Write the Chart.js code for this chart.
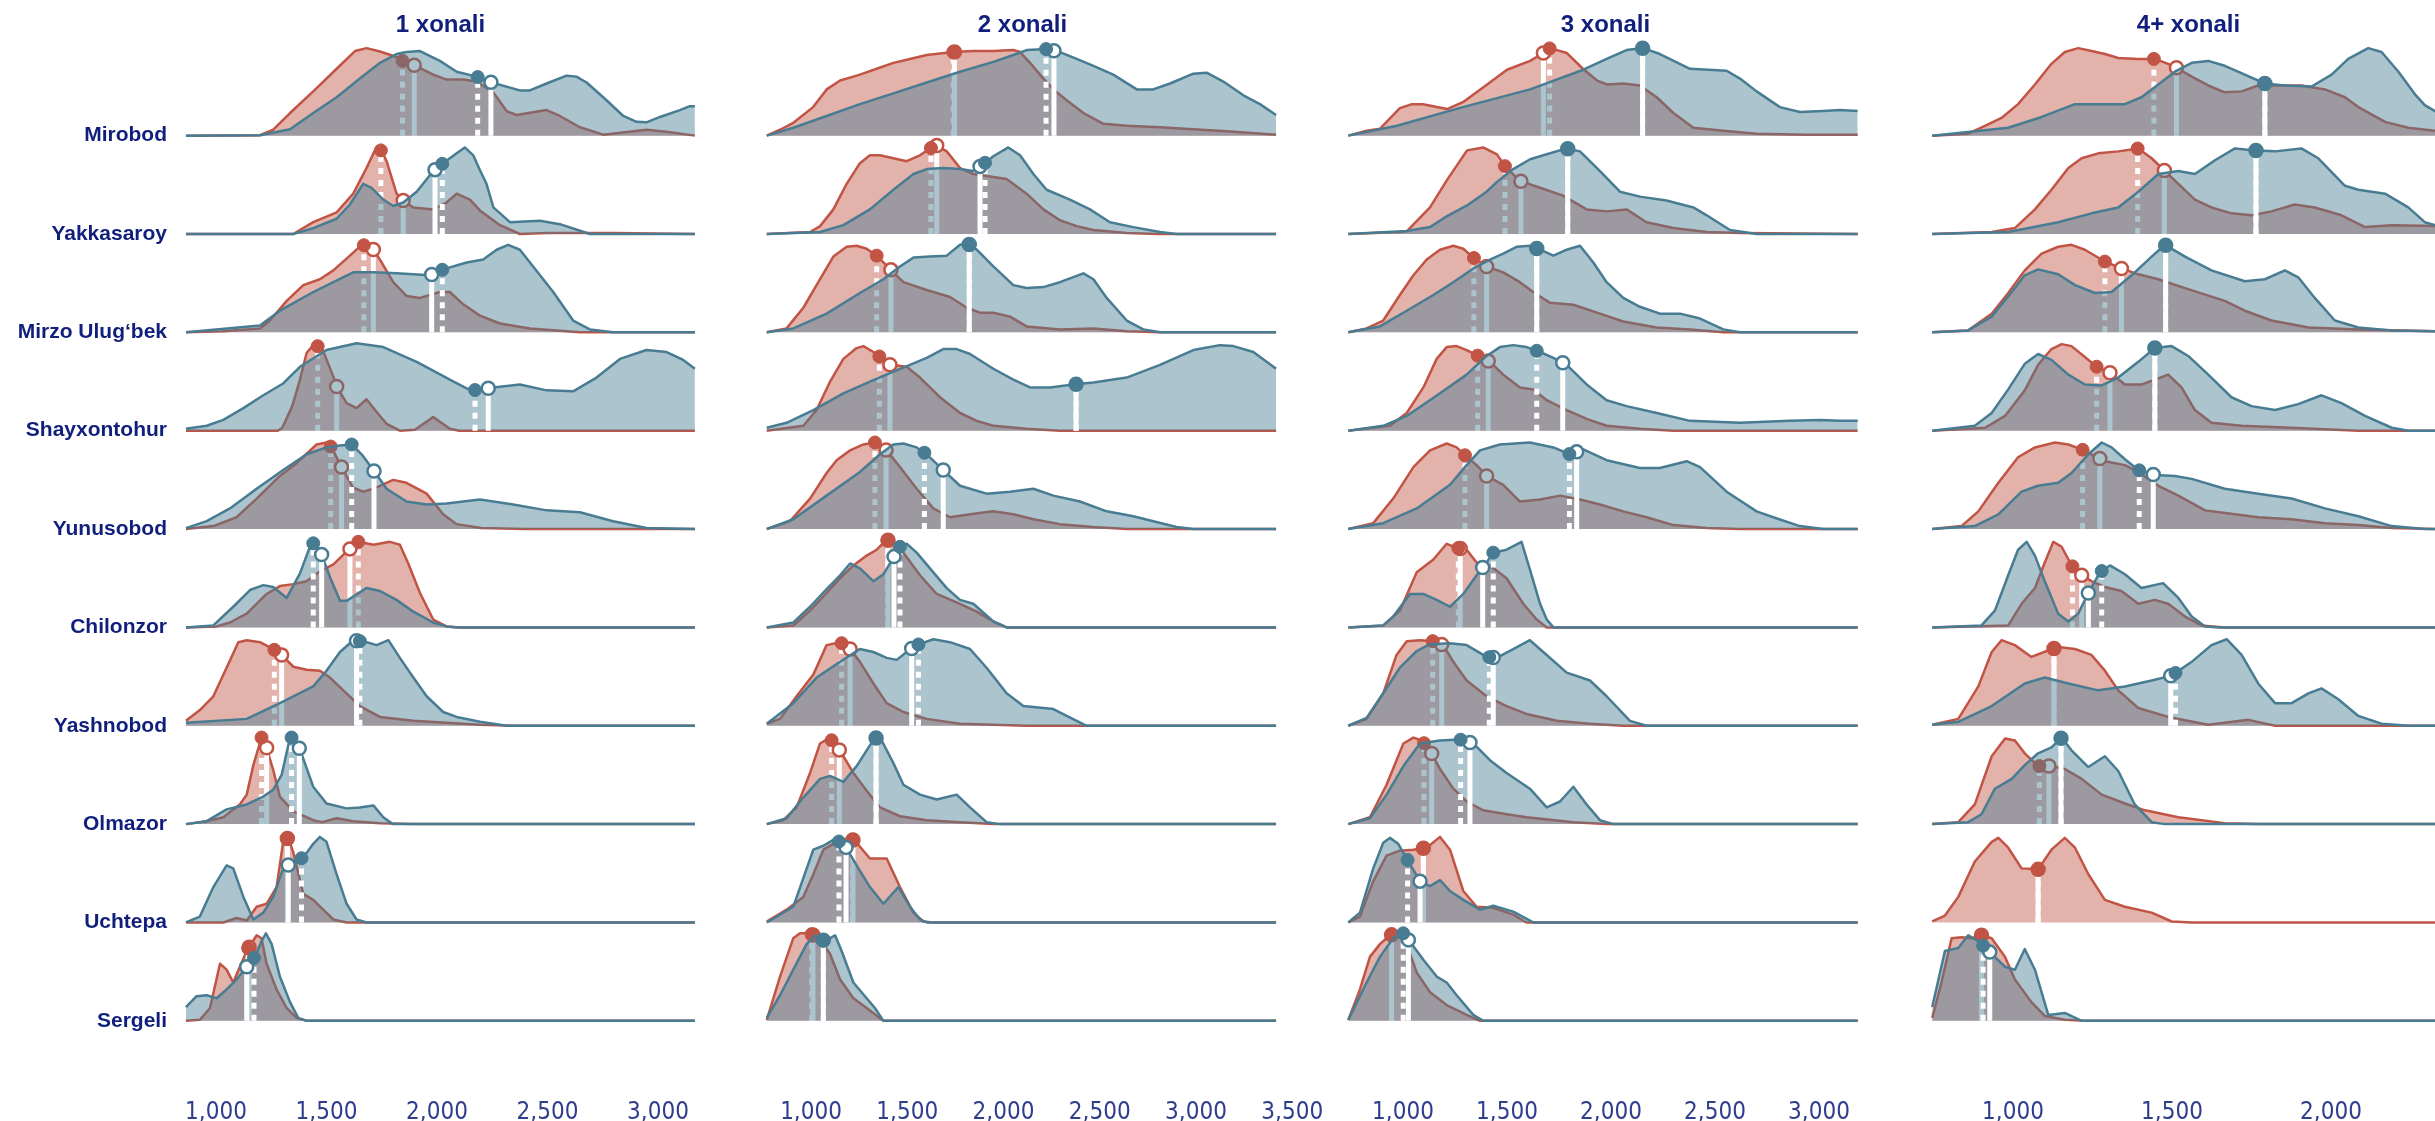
<!DOCTYPE html>
<html><head><meta charset="utf-8">
<script src="https://cdn.jsdelivr.net/npm/chart.js@4.4.1/dist/chart.umd.min.js"></script>
<style>
html,body{margin:0;padding:0;background:#fff;overflow:hidden;width:2435px;height:1121px;}
.p{position:absolute;top:0;height:1121px;}
</style></head><body>
<div class="p" style="left:0;width:743px"><canvas id="c0"></canvas></div>
<div class="p" style="left:750px;width:575px"><canvas id="c1"></canvas></div>
<div class="p" style="left:1333px;width:575px"><canvas id="c2"></canvas></div>
<div class="p" style="left:1916px;width:575px"><canvas id="c3"></canvas></div>
<script>
// ---------------- DATA ----------------
const ROWS = ["Mirobod","Yakkasaroy","Mirzo Ulug\u2018bek","Shayxontohur","Yunusobod","Chilonzor","Yashnobod","Olmazor","Uchtepa","Sergeli"];
const PANELS = ["1 xonali","2 xonali","3 xonali","4+ xonali"];
const X_TICKS = [[1000,1500,2000,2500,3000],[1000,1500,2000,2500,3000,3500],[1000,1500,2000,2500,3000],[1000,1500,2000]];
const X_MIN = [782.8, 683.0, 663.5, 695.0];
const X_MAX = [3248.9, 3514.2, 3283.7, 2408.8];

// density curves: flat [x, height, x, height, ...] per district (top to bottom)
const RED_P1 = [
 [864,0,1199,0.005,1259,0.06,1335,0.23,1440,0.45,1546,0.68,1629,0.86,1681,0.89,1742,0.855,1817,0.8,1844,0.76,1893,0.72,1983,0.62,2043,0.57,2119,0.57,2179,0.55,2255,0.44,2315,0.25,2360,0.21,2496,0.26,2556,0.2,2647,0.085,2752,0.01,2948,0.06,3039,0.04,3167,0],
 [864,0,1350,0,1372,0.03,1440,0.12,1546,0.22,1621,0.41,1681,0.67,1719,0.85,1749,0.85,1772,0.74,1817,0.41,1847,0.34,1893,0.27,1983,0.25,2043,0.32,2089,0.41,2149,0.35,2194,0.24,2285,0.09,2375,0,2500,0.01,2800,0.01,3167,0],
 [864,0,1033,0.01,1199,0.04,1244,0.12,1320,0.32,1395,0.48,1470,0.54,1531,0.63,1606,0.78,1659,0.89,1704,0.87,1742,0.74,1802,0.51,1862,0.37,1923,0.35,2013,0.41,2058,0.41,2119,0.285,2194,0.17,2285,0.09,2420,0.04,2647,0,3167,0],
 [864,0,1280,0,1300,0.03,1345,0.25,1380,0.52,1410,0.79,1440,0.87,1478,0.85,1531,0.55,1546,0.45,1591,0.28,1636,0.23,1681,0.32,1727,0.19,1772,0.07,1832,0,1900,0.01,1983,0.14,2058,0.02,2100,0,3167,0],
 [864,0,988,0.03,1093,0.12,1184,0.31,1289,0.54,1365,0.67,1455,0.86,1500,0.88,1523,0.83,1568,0.63,1621,0.42,1666,0.38,1712,0.41,1742,0.44,1802,0.5,1862,0.47,1953,0.36,2028,0.15,2089,0.05,2200,0.01,2400,0,3167,0],
 [864,0,1003,0.01,1063,0.05,1139,0.14,1229,0.34,1289,0.42,1350,0.44,1410,0.47,1470,0.57,1531,0.64,1591,0.77,1644,0.87,1712,0.84,1787,0.87,1832,0.84,1870,0.65,1923,0.35,1983,0.08,2043,0.01,2100,0,3167,0],
 [864,0.05,927,0.16,988,0.3,1048,0.59,1101,0.85,1139,0.87,1199,0.85,1259,0.78,1297,0.72,1350,0.6,1410,0.57,1470,0.56,1516,0.49,1576,0.36,1651,0.2,1742,0.09,1893,0.05,2043,0.03,2194,0.01,2345,0,3167,0],
 [864,0,958,0.03,1033,0.07,1108,0.2,1139,0.3,1169,0.6,1206,0.88,1222,0.83,1259,0.55,1289,0.28,1350,0.13,1440,0.04,1480,0.02,1546,0.06,1621,0.03,1742,0.01,1893,0,3167,0],
 [864,0,1033,0,1093,0.045,1139,0.02,1184,0.16,1229,0.19,1274,0.36,1304,0.82,1327,0.86,1350,0.71,1395,0.29,1440,0.23,1485,0.13,1531,0.03,1591,0,3167,0],
 [864,0,927,0.01,973,0.13,1018,0.58,1048,0.52,1078,0.39,1108,0.55,1139,0.71,1184,0.87,1206,0.84,1229,0.58,1274,0.32,1320,0.13,1365,0.03,1410,0,3167,0]
];
const BLUE_P1 = [
 [864,0,1199,0.003,1335,0.065,1440,0.23,1546,0.39,1651,0.58,1742,0.74,1817,0.83,1862,0.85,1923,0.86,2013,0.76,2089,0.65,2179,0.6,2247,0.54,2375,0.46,2420,0.46,2496,0.53,2586,0.61,2631,0.6,2677,0.54,2767,0.36,2843,0.2,2903,0.14,2948,0.135,3009,0.19,3099,0.26,3144,0.3,3167,0.3],
 [864,0,1350,0,1440,0.06,1546,0.155,1606,0.3,1666,0.51,1704,0.47,1757,0.35,1802,0.285,1847,0.32,1908,0.43,1983,0.64,2028,0.72,2089,0.82,2126,0.88,2164,0.8,2194,0.65,2224,0.51,2255,0.27,2330,0.12,2466,0.135,2556,0.1,2692,0,3167,0],
 [864,0,1199,0.07,1289,0.22,1440,0.41,1531,0.51,1621,0.61,1712,0.61,1817,0.6,1968,0.58,2028,0.64,2134,0.71,2209,0.74,2270,0.84,2322,0.89,2375,0.84,2435,0.67,2526,0.41,2616,0.12,2692,0.03,2797,0,3167,0],
 [864,0.02,958,0.05,1033,0.11,1124,0.23,1214,0.36,1304,0.48,1380,0.65,1500,0.82,1636,0.89,1757,0.85,1908,0.7,2058,0.52,2134,0.43,2179,0.41,2255,0.44,2375,0.47,2496,0.41,2616,0.4,2722,0.54,2828,0.73,2948,0.82,3039,0.8,3114,0.72,3167,0.63],
 [864,0.01,958,0.08,1063,0.21,1184,0.41,1304,0.6,1410,0.76,1500,0.83,1561,0.85,1614,0.86,1659,0.76,1712,0.6,1772,0.41,1862,0.28,1953,0.25,2043,0.26,2194,0.3,2345,0.25,2496,0.19,2647,0.17,2797,0.08,2948,0.01,3167,0],
 [864,0,988,0.02,1078,0.21,1154,0.38,1214,0.43,1259,0.41,1320,0.3,1380,0.55,1433,0.87,1470,0.79,1516,0.51,1561,0.27,1591,0.27,1681,0.4,1742,0.37,1817,0.28,1893,0.16,1983,0.05,2043,0.01,2100,0,3167,0],
 [864,0.03,1139,0.07,1289,0.23,1440,0.4,1500,0.56,1561,0.75,1621,0.87,1681,0.85,1727,0.82,1780,0.87,1832,0.69,1893,0.49,1953,0.3,2028,0.14,2089,0.09,2194,0.04,2315,0,3167,0],
 [864,0,958,0.03,1048,0.15,1139,0.2,1214,0.28,1259,0.35,1297,0.5,1335,0.88,1350,0.88,1380,0.76,1440,0.38,1500,0.21,1591,0.16,1650,0.17,1712,0.19,1757,0.07,1800,0,3167,0],
 [864,0,927,0.06,988,0.36,1048,0.58,1078,0.55,1124,0.26,1169,0.03,1214,0.1,1259,0.26,1304,0.55,1350,0.62,1395,0.66,1440,0.8,1470,0.87,1500,0.82,1546,0.49,1591,0.19,1636,0.03,1681,0,3167,0],
 [864,0.14,912,0.25,958,0.26,1003,0.23,1048,0.32,1093,0.42,1139,0.55,1176,0.65,1206,0.81,1226,0.89,1252,0.78,1289,0.45,1335,0.19,1372,0.03,1410,0,3167,0]
];
const RED_P2 = [
 [770,0,839,0.06,908,0.13,1011,0.29,1081,0.47,1151,0.56,1220,0.6,1254,0.62,1341,0.68,1428,0.74,1514,0.78,1601,0.82,1739,0.85,1843,0.86,1947,0.86,2051,0.87,2086,0.85,2138,0.74,2207,0.58,2259,0.47,2328,0.36,2415,0.23,2519,0.12,2640,0.1,2813,0.085,2986,0.065,3159,0.045,3416,0.01],
 [770,0,995,0.02,1047,0.08,1116,0.25,1185,0.51,1254,0.72,1306,0.8,1358,0.8,1428,0.77,1497,0.74,1566,0.8,1618,0.87,1653,0.9,1705,0.84,1774,0.67,1843,0.61,1947,0.58,2016,0.56,2120,0.41,2207,0.25,2293,0.14,2380,0.08,2467,0.04,2640,0.01,2800,0,3416,0],
 [770,0,873,0.04,960,0.25,1047,0.54,1116,0.77,1185,0.87,1237,0.88,1289,0.85,1341,0.78,1428,0.61,1480,0.51,1601,0.43,1722,0.36,1809,0.25,1878,0.2,1947,0.2,2034,0.16,2120,0.06,2293,0.03,2467,0.04,2640,0.01,2813,0,3416,0],
 [770,0,960,0.05,1029,0.21,1099,0.5,1168,0.73,1237,0.84,1272,0.86,1324,0.8,1358,0.75,1410,0.67,1497,0.65,1566,0.54,1670,0.34,1774,0.18,1861,0.1,1947,0.05,2120,0.02,2293,0,3416,0],
 [770,0,891,0.08,995,0.31,1081,0.57,1133,0.7,1203,0.8,1272,0.86,1332,0.88,1393,0.8,1462,0.63,1549,0.41,1635,0.21,1722,0.12,1826,0.15,1947,0.18,2051,0.15,2155,0.1,2293,0.05,2467,0.02,2640,0,3416,0],
 [770,0,908,0.02,995,0.17,1081,0.35,1151,0.5,1220,0.63,1289,0.73,1341,0.79,1393,0.89,1428,0.87,1480,0.76,1566,0.53,1653,0.34,1774,0.24,1861,0.16,1947,0.06,2016,0,3416,0],
 [770,0.02,839,0.07,925,0.3,1012,0.52,1081,0.82,1151,0.85,1203,0.78,1254,0.65,1324,0.43,1393,0.23,1480,0.14,1601,0.07,1774,0.02,1947,0.01,2120,0,3416,0],
 [770,0,856,0.04,925,0.17,995,0.52,1047,0.82,1081,0.86,1116,0.85,1168,0.69,1220,0.52,1289,0.34,1358,0.17,1462,0.08,1601,0.04,1774,0.02,1947,0,3416,0],
 [770,0.01,873,0.13,960,0.26,1012,0.49,1064,0.74,1133,0.82,1203,0.86,1237,0.81,1306,0.65,1393,0.65,1462,0.36,1532,0.1,1583,0.01,1635,0,3416,0],
 [770,0.01,839,0.45,908,0.84,943,0.89,995,0.89,1047,0.83,1099,0.68,1151,0.42,1220,0.23,1289,0.13,1376,0,3416,0]
];
const BLUE_P2 = [
 [770,0,908,0.08,1081,0.2,1254,0.32,1428,0.43,1601,0.54,1774,0.65,1947,0.75,2051,0.82,2120,0.87,2224,0.88,2293,0.85,2380,0.78,2467,0.71,2570,0.62,2692,0.47,2778,0.47,2865,0.53,2986,0.63,3055,0.64,3142,0.55,3246,0.41,3332,0.32,3416,0.21],
 [770,0,1047,0.02,1168,0.09,1306,0.25,1428,0.45,1532,0.61,1601,0.66,1687,0.67,1774,0.66,1843,0.64,1895,0.71,1947,0.79,2025,0.88,2086,0.8,2155,0.61,2224,0.45,2345,0.35,2449,0.25,2553,0.12,2674,0.07,2813,0.02,2899,0,3416,0],
 [770,0,908,0.04,1081,0.19,1254,0.4,1376,0.54,1462,0.67,1532,0.76,1618,0.77,1705,0.78,1774,0.89,1817,0.9,1861,0.84,1947,0.67,2051,0.48,2120,0.45,2207,0.46,2293,0.51,2415,0.6,2467,0.54,2536,0.35,2640,0.12,2726,0.03,2813,0,3416,0],
 [770,0.03,873,0.08,1012,0.21,1168,0.38,1306,0.5,1428,0.6,1514,0.67,1601,0.74,1687,0.83,1757,0.83,1826,0.78,1947,0.63,2051,0.52,2138,0.44,2241,0.44,2363,0.47,2467,0.49,2640,0.54,2813,0.67,2986,0.82,3124,0.87,3194,0.86,3298,0.8,3416,0.63],
 [770,0,908,0.1,1081,0.34,1254,0.58,1358,0.76,1428,0.86,1480,0.87,1549,0.83,1601,0.76,1687,0.6,1774,0.44,1912,0.36,2034,0.38,2155,0.41,2259,0.34,2397,0.28,2536,0.18,2674,0.13,2778,0.08,2899,0.02,2986,0,3416,0],
 [770,0,908,0.05,995,0.21,1081,0.39,1151,0.53,1203,0.65,1254,0.6,1324,0.47,1376,0.54,1428,0.71,1462,0.82,1497,0.85,1549,0.76,1618,0.6,1705,0.4,1774,0.28,1843,0.24,1947,0.06,2016,0,3416,0],
 [770,0.02,908,0.23,1029,0.49,1151,0.65,1254,0.78,1324,0.75,1393,0.69,1445,0.67,1497,0.75,1549,0.82,1635,0.88,1722,0.85,1826,0.78,1912,0.59,2016,0.33,2103,0.2,2259,0.17,2328,0.1,2432,0,3416,0],
 [770,0,873,0.06,960,0.27,1047,0.46,1099,0.49,1168,0.43,1237,0.59,1289,0.75,1332,0.88,1367,0.85,1428,0.62,1480,0.4,1566,0.3,1653,0.25,1757,0.3,1826,0.17,1912,0.02,1982,0,3416,0],
 [770,0,908,0.16,960,0.45,1012,0.74,1064,0.78,1116,0.84,1168,0.81,1237,0.58,1306,0.36,1376,0.19,1454,0.36,1514,0.16,1566,0.03,1601,0,3416,0],
 [770,0.03,839,0.26,908,0.52,977,0.78,1021,0.87,1073,0.81,1125,0.87,1159,0.71,1220,0.39,1289,0.23,1332,0.13,1376,0,3416,0]
];
const RED_P3 = [
 [737,0,825,0.05,889,0.07,985,0.28,1043,0.32,1096,0.32,1212,0.27,1288,0.34,1385,0.49,1500,0.67,1611,0.76,1668,0.83,1707,0.89,1788,0.84,1865,0.68,1933,0.56,1981,0.52,2059,0.53,2139,0.51,2220,0.39,2300,0.23,2396,0.08,2540,0.05,2700,0.02,2941,0.01,3186,0.01],
 [737,0,985,0.02,1019,0.03,1130,0.27,1212,0.55,1308,0.85,1385,0.88,1452,0.81,1490,0.69,1562,0.54,1659,0.47,1769,0.39,1883,0.25,1979,0.23,2075,0.25,2171,0.12,2300,0.06,2460,0.02,2620,0.01,3186,0],
 [737,0,825,0.04,905,0.12,985,0.38,1050,0.58,1114,0.74,1178,0.84,1242,0.88,1290,0.85,1338,0.76,1402,0.67,1482,0.61,1562,0.51,1626,0.41,1707,0.3,1819,0.28,1947,0.19,2059,0.11,2220,0.05,2380,0.03,2540,0,3186,0],
 [737,0,937,0.05,1018,0.18,1098,0.44,1162,0.73,1210,0.85,1258,0.86,1306,0.82,1362,0.76,1418,0.7,1482,0.57,1562,0.44,1626,0.42,1691,0.31,1787,0.21,1883,0.12,1979,0.05,2139,0.02,2300,0,3186,0],
 [737,0,857,0.06,953,0.31,1050,0.63,1130,0.8,1210,0.87,1258,0.83,1298,0.75,1354,0.65,1402,0.54,1482,0.45,1562,0.28,1659,0.3,1755,0.34,1851,0.3,1947,0.25,2059,0.18,2171,0.12,2300,0.04,2460,0.01,2620,0,3186,0],
 [737,0,905,0.02,985,0.17,1066,0.56,1146,0.69,1210,0.85,1258,0.81,1306,0.79,1354,0.66,1418,0.63,1498,0.5,1578,0.24,1643,0.08,1691,0,3186,0],
 [737,0,825,0.07,905,0.33,969,0.72,1018,0.86,1082,0.87,1146,0.86,1194,0.82,1242,0.65,1306,0.46,1402,0.3,1498,0.2,1594,0.12,1739,0.05,1899,0.02,2059,0,3186,0],
 [737,0,841,0.07,921,0.4,1002,0.82,1050,0.88,1090,0.85,1130,0.75,1178,0.56,1242,0.36,1306,0.23,1386,0.14,1498,0.1,1594,0.07,1819,0.02,1979,0,3186,0],
 [737,0,793,0.06,857,0.42,921,0.68,985,0.73,1050,0.74,1114,0.76,1178,0.87,1226,0.74,1290,0.32,1354,0.16,1434,0.15,1530,0.08,1594,0,3186,0],
 [737,0.01,793,0.32,841,0.65,889,0.78,937,0.87,977,0.89,1018,0.78,1066,0.49,1130,0.29,1210,0.16,1306,0.06,1370,0,3186,0]
];
const BLUE_P3 = [
 [737,0,971,0.1,1288,0.29,1611,0.47,1867,0.67,1979,0.78,2075,0.87,2155,0.89,2235,0.83,2380,0.68,2556,0.66,2620,0.58,2700,0.45,2812,0.29,2908,0.24,3021,0.25,3101,0.26,3186,0.25],
 [737,0,1018,0.03,1130,0.07,1210,0.18,1308,0.29,1402,0.43,1452,0.53,1530,0.66,1611,0.76,1691,0.81,1787,0.87,1851,0.84,1947,0.64,2043,0.43,2139,0.38,2267,0.34,2396,0.27,2460,0.19,2572,0.04,2700,0,3186,0],
 [737,0,889,0.06,1018,0.22,1146,0.38,1242,0.51,1338,0.65,1418,0.74,1482,0.8,1546,0.87,1610,0.88,1659,0.84,1723,0.78,1787,0.84,1851,0.88,1915,0.71,1979,0.51,2059,0.35,2139,0.26,2235,0.19,2332,0.19,2428,0.14,2540,0.03,2620,0,3186,0],
 [737,0,905,0.05,1018,0.15,1178,0.38,1306,0.57,1402,0.76,1466,0.85,1530,0.87,1594,0.85,1659,0.8,1723,0.74,1787,0.67,1883,0.47,1979,0.31,2075,0.25,2220,0.18,2380,0.1,2620,0.08,2860,0.1,3005,0.11,3101,0.1,3186,0.1],
 [737,0,905,0.06,1066,0.21,1226,0.45,1306,0.65,1370,0.8,1466,0.86,1610,0.88,1723,0.83,1803,0.76,1867,0.81,1979,0.7,2139,0.62,2235,0.62,2364,0.69,2428,0.63,2556,0.38,2700,0.18,2780,0.12,2908,0.03,3021,0,3186,0],
 [737,0,905,0.02,953,0.11,1034,0.34,1098,0.34,1162,0.28,1226,0.21,1290,0.34,1354,0.53,1402,0.66,1434,0.76,1498,0.79,1570,0.87,1610,0.59,1659,0.24,1691,0.08,1723,0,3186,0],
 [737,0,825,0.08,905,0.33,985,0.59,1066,0.76,1130,0.83,1226,0.84,1306,0.82,1402,0.7,1450,0.69,1530,0.78,1610,0.87,1691,0.72,1787,0.54,1899,0.46,1979,0.3,2091,0.05,2171,0,3186,0],
 [737,0,841,0.06,921,0.3,1002,0.59,1082,0.82,1178,0.85,1274,0.86,1338,0.82,1418,0.65,1498,0.52,1610,0.36,1691,0.17,1755,0.23,1819,0.38,1883,0.2,1947,0.04,2011,0,3186,0],
 [737,0,793,0.1,857,0.55,905,0.81,937,0.86,977,0.8,1018,0.65,1082,0.42,1130,0.37,1178,0.43,1226,0.32,1290,0.23,1370,0.13,1434,0.17,1530,0.11,1626,0,3186,0],
 [737,0.01,825,0.39,889,0.65,953,0.84,1001,0.89,1042,0.78,1098,0.62,1162,0.45,1210,0.39,1258,0.26,1338,0.06,1386,0,3186,0]
];
const RED_P4 = [
 [746,0,859,0.02,912,0.1,964,0.18,1016,0.32,1069,0.52,1121,0.73,1163,0.85,1205,0.89,1247,0.86,1289,0.83,1331,0.79,1394,0.78,1446,0.78,1488,0.73,1520,0.68,1562,0.6,1614,0.51,1666,0.44,1719,0.45,1771,0.51,1834,0.51,1907,0.51,1981,0.47,2044,0.39,2086,0.29,2170,0.14,2243,0.08,2327,0.05,2350,0.045],
 [746,0,933,0.02,1006,0.06,1069,0.25,1121,0.45,1174,0.67,1216,0.77,1268,0.82,1331,0.84,1394,0.87,1436,0.77,1478,0.64,1520,0.51,1572,0.35,1624,0.27,1687,0.21,1750,0.19,1813,0.23,1886,0.3,1949,0.27,2033,0.19,2107,0.07,2191,0.09,2327,0.08,2350,0.08],
 [746,0,859,0.02,933,0.19,985,0.4,1037,0.63,1090,0.8,1142,0.87,1184,0.89,1226,0.84,1289,0.72,1341,0.65,1394,0.59,1457,0.54,1541,0.45,1666,0.32,1729,0.22,1813,0.12,1929,0.05,2086,0.03,2327,0.01,2350,0.01],
 [746,0,912,0.03,975,0.15,1037,0.41,1079,0.67,1121,0.83,1153,0.88,1184,0.86,1226,0.75,1263,0.65,1305,0.59,1352,0.47,1404,0.47,1446,0.52,1488,0.57,1530,0.44,1572,0.21,1624,0.08,1719,0.05,1876,0.03,2086,0,2350,0],
 [746,0,838,0.03,891,0.18,954,0.47,1016,0.73,1069,0.83,1132,0.88,1174,0.86,1216,0.81,1247,0.76,1289,0.69,1352,0.65,1394,0.58,1457,0.44,1520,0.34,1604,0.19,1698,0.15,1771,0.12,1876,0.1,1981,0.06,2086,0.04,2191,0.01,2327,0,2350,0],
 [746,0,985,0.02,1027,0.24,1069,0.4,1100,0.66,1127,0.87,1153,0.82,1184,0.63,1216,0.53,1247,0.47,1289,0.41,1341,0.37,1394,0.24,1446,0.28,1488,0.24,1541,0.11,1593,0.02,1666,0,2350,0],
 [746,0.01,828,0.07,891,0.4,933,0.75,964,0.87,1006,0.82,1058,0.7,1106,0.76,1142,0.8,1195,0.78,1247,0.72,1289,0.56,1331,0.36,1394,0.18,1488,0.09,1614,0.01,1740,0.06,1824,0,2350,0],
 [746,0,828,0.02,880,0.2,933,0.69,975,0.87,1006,0.85,1037,0.72,1079,0.59,1121,0.59,1163,0.56,1216,0.46,1279,0.3,1352,0.21,1415,0.14,1520,0.07,1666,0.01,1771,0,2350,0],
 [746,0.01,786,0.07,828,0.26,880,0.62,933,0.82,954,0.86,985,0.76,1027,0.55,1079,0.54,1121,0.74,1163,0.86,1195,0.76,1237,0.49,1289,0.23,1352,0.16,1436,0.1,1499,0.01,1562,0,2350,0],
 [746,0.03,775,0.39,807,0.84,838,0.85,870,0.84,901,0.87,933,0.84,975,0.65,1006,0.42,1058,0.19,1100,0.05,1163,0.01,1226,0,2350,0]
];
const BLUE_P4 = [
 [746,0,985,0.08,1090,0.19,1195,0.32,1268,0.32,1352,0.32,1404,0.39,1457,0.52,1509,0.65,1562,0.74,1614,0.76,1666,0.71,1729,0.62,1792,0.53,1855,0.51,1939,0.5,2002,0.62,2054,0.78,2117,0.89,2159,0.85,2212,0.65,2264,0.42,2295,0.31,2327,0.25,2350,0.2],
 [746,0,985,0.02,1142,0.12,1247,0.21,1331,0.27,1394,0.43,1457,0.61,1520,0.64,1572,0.61,1635,0.75,1698,0.87,1761,0.85,1824,0.84,1907,0.87,1960,0.77,2044,0.49,2086,0.45,2170,0.41,2243,0.27,2295,0.12,2327,0.09,2350,0.07],
 [746,0,859,0.02,933,0.16,996,0.41,1037,0.58,1079,0.64,1142,0.59,1195,0.48,1258,0.4,1310,0.41,1373,0.58,1436,0.77,1478,0.89,1541,0.77,1624,0.63,1729,0.52,1792,0.54,1855,0.63,1897,0.56,1949,0.35,2012,0.12,2086,0.05,2191,0.02,2327,0.01,2350,0.01],
 [746,0,880,0.05,933,0.18,985,0.42,1037,0.68,1079,0.78,1121,0.72,1174,0.57,1226,0.47,1279,0.46,1331,0.54,1394,0.7,1446,0.84,1499,0.86,1551,0.76,1614,0.57,1687,0.34,1750,0.25,1824,0.21,1897,0.27,1970,0.36,2033,0.28,2107,0.15,2191,0.03,2243,0,2350,0],
 [746,0,880,0.03,954,0.15,1027,0.38,1079,0.44,1142,0.47,1184,0.57,1237,0.76,1279,0.88,1310,0.83,1352,0.71,1394,0.6,1446,0.55,1509,0.54,1562,0.51,1666,0.41,1771,0.36,1876,0.31,1981,0.21,2086,0.13,2191,0.03,2295,0,2350,0],
 [746,0,901,0.02,943,0.17,985,0.53,1016,0.79,1043,0.87,1069,0.73,1100,0.47,1142,0.14,1174,0.06,1205,0.14,1237,0.35,1273,0.56,1305,0.63,1352,0.54,1404,0.4,1472,0.45,1520,0.3,1562,0.11,1604,0.01,1650,0,2350,0],
 [746,0.01,828,0.04,933,0.2,1037,0.43,1100,0.49,1174,0.43,1268,0.36,1352,0.4,1436,0.46,1499,0.51,1562,0.65,1624,0.82,1672,0.88,1719,0.72,1771,0.43,1824,0.23,1876,0.23,1929,0.33,1970,0.38,2023,0.27,2086,0.1,2159,0.02,2243,0,2350,0],
 [746,0,859,0.02,901,0.1,943,0.36,996,0.46,1037,0.6,1079,0.72,1121,0.78,1153,0.88,1184,0.75,1237,0.58,1289,0.69,1331,0.54,1383,0.2,1436,0.02,1478,0,2350,0],
 [],
 [746,0.14,786,0.71,828,0.74,859,0.87,891,0.81,933,0.68,975,0.55,1006,0.52,1037,0.73,1069,0.52,1111,0.06,1163,0.08,1216,0,2350,0]
];
// summary statistics per panel and district: filled marker (median) and hollow marker (mean)
const RED_MEDIAN = [
 [1844,1746,1669,1460,1519,1644,1264,1206,1323,1146],
 [1739,1623,1341,1355,1332,1398,1159,1107,1215,1003],
 [1705,1490,1341,1359,1298,1266,1143,1101,1098,945],
 [1443,1392,1289,1263,1219,1187,1129,1083,1079,901]
];
const RED_MEAN = [
 [1897,1847,1712,1546,1568,1606,1297,1229,1323,1150],
 [1745,1653,1415,1410,1390,1400,1203,1147,1218,1010],
 [1675,1567,1402,1410,1402,1275,1186,1138,1098,945],
 [1514,1476,1341,1305,1273,1216,1129,1113,1079,901]
];
const BLUE_MEDIAN = [
 [2184,2024,2024,2172,1614,1440,1651,1342,1387,1172],
 [2221,1904,1822,2377,1589,1462,1558,1338,1145,1064],
 [2152,1792,1643,1643,1800,1434,1415,1277,1022,1001],
 [1792,1764,1480,1446,1397,1279,1511,1151,null,906]
];
const BLUE_MEAN = [
 [2244,1991,1976,2232,1715,1478,1636,1377,1327,1139],
 [2262,1878,1822,2377,1687,1431,1523,1338,1182,1064],
 [2152,1792,1643,1768,1835,1383,1434,1322,1082,1026],
 [1792,1764,1480,1446,1441,1237,1496,1151,null,927]
];

// ---------------- STYLE ----------------
const RED_LINE = '#c15444', BLUE_LINE = '#487c92';
const RED_FILL = 'rgba(193,84,68,0.45)', BLUE_FILL = 'rgba(72,124,146,0.45)';
const TEXT_DARK = '#101e7c', TEXT_TICK = '#2f3d8c';
const SANS = "'Liberation Sans', Arial, sans-serif";
const NARROW = "'Liberation Sans Narrow', 'Arial Narrow', 'DejaVu Sans Condensed', sans-serif";
const LABEL_W = 168;      // width reserved for district names (panel 1)
const RIGHT_PAD = 30;     // room for the last tick label

const REDS = [RED_P1, RED_P2, RED_P3, RED_P4];
const BLUES = [BLUE_P1, BLUE_P2, BLUE_P3, BLUE_P4];

function hAt(c, x) {
  for (let i = 0; i + 3 < c.length; i += 2) {
    const x0 = c[i], y0 = c[i+1], x1 = c[i+2], y1 = c[i+3];
    if (x >= x0 && x <= x1) return y0 + (y1 - y0) * (x - x0) / (x1 - x0);
  }
  return 0;
}
function pts(c, base) {
  const a = [];
  for (let i = 0; i < c.length; i += 2) a.push({x: c[i], y: base + c[i+1]});
  return a;
}
function addSeries(ds, c, med, mean, base, col, fillCol) {
  if (!c || !c.length) return;
  ds.push({data: pts(c, base), borderColor: col, backgroundColor: fillCol, borderWidth: 2.5,
    fill: {value: base}, pointRadius: 0, tension: 0, borderJoinStyle: 'round'});
  if (mean != null) {
    const h = hAt(c, mean);
    ds.push({data: [{x: mean, y: base}, {x: mean, y: base + h}], borderColor: '#ffffff', borderWidth: 5,
      pointRadius: 0, fill: false});
  }
  if (med != null) {
    const h = hAt(c, med);
    ds.push({data: [{x: med, y: base}, {x: med, y: base + h}], borderColor: '#ffffff', borderWidth: 5,
      borderDash: [6, 6], pointRadius: 0, fill: false});
  }
  if (mean != null) {
    ds.push({data: [{x: mean, y: base + hAt(c, mean)}], showLine: false, pointRadius: 6.5,
      pointBackgroundColor: '#ffffff', pointBorderColor: col, pointBorderWidth: 2.5, clip: false});
  }
  if (med != null) {
    ds.push({data: [{x: med, y: base + hAt(c, med)}], showLine: false, pointRadius: 6.5,
      pointBackgroundColor: col, pointBorderColor: col, pointBorderWidth: 1, clip: false});
  }
}

function makePanel(p) {
  const ds = [];
  for (let r = 0; r < ROWS.length; r++) {
    const base = ROWS.length - 1 - r;
    addSeries(ds, REDS[p][r], RED_MEDIAN[p][r], RED_MEAN[p][r], base, RED_LINE, RED_FILL);
    addSeries(ds, BLUES[p][r], BLUE_MEDIAN[p][r], BLUE_MEAN[p][r], base, BLUE_LINE, BLUE_FILL);
  }
  const n = ds.length;
  ds.forEach((d, i) => { d.order = n - i; });
  new Chart(document.getElementById('c' + p), {
    type: 'line',
    data: {datasets: ds},
    options: {
      responsive: true, maintainAspectRatio: false, animation: false, devicePixelRatio: 1,
      events: [],
      layout: {padding: {left: 0, top: 0, bottom: 0, right: RIGHT_PAD}, autoPadding: false},
      plugins: {
        legend: {display: false}, tooltip: {enabled: false},
        title: {display: true, text: PANELS[p], fullSize: false, color: TEXT_DARK,
          font: {family: SANS, size: 24, weight: 'bold'}, padding: {top: 10.6, bottom: 2.8}}
      },
      scales: {
        x: {type: 'linear', min: X_MIN[p], max: X_MAX[p],
          grid: {display: false, drawTicks: true, tickLength: 28}, border: {display: false},
          afterBuildTicks: s => { s.ticks = X_TICKS[p].map(v => ({value: v})); },
          afterFit: s => { s.height = 51; s.paddingLeft = 0; s.paddingRight = 0; },
          ticks: {autoSkip: false, maxRotation: 0, padding: 0, color: TEXT_TICK,
            font: {family: NARROW, size: 24},
            callback: v => Number(v).toLocaleString('en-US')}
        },
        y: {type: 'linear', min: -0.5, max: 9.95, display: p === 0,
          grid: {display: false, drawTicks: false}, border: {display: false},
          afterBuildTicks: s => { s.ticks = ROWS.map((_, i) => ({value: i})); },
          afterFit: s => { if (p === 0) s.width = LABEL_W; s.paddingTop = 0; s.paddingBottom = 0; },
          ticks: {autoSkip: false, padding: 1, color: TEXT_DARK,
            font: {family: SANS, size: 21, weight: 'bold'},
            callback: v => ROWS[ROWS.length - 1 - v]}
        }
      }
    }
  });
}
for (let p = 0; p < 4; p++) makePanel(p);
</script>
</body></html>
